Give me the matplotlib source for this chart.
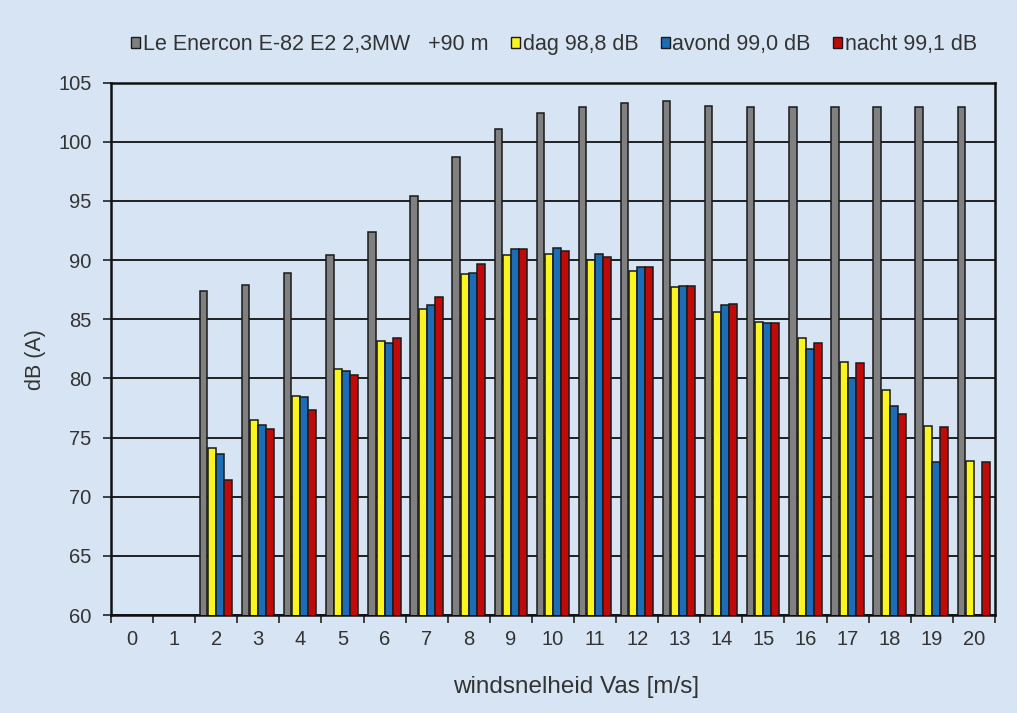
import numpy as np
import matplotlib
matplotlib.use("Agg")
import matplotlib.pyplot as plt
from matplotlib.patches import Patch
from matplotlib.ticker import MultipleLocator, FixedLocator

plt.rcParams['font.family'] = ['Liberation Sans', 'DejaVu Sans']

# wind speed classes (m/s)
wind = list(range(21))

# sound power levels, dB(A)
turbine = [None, None, 87.4, 87.9, 88.9, 90.4, 92.4, 95.4, 98.7, 101.1, 102.4,
           102.9, 103.3, 103.4, 103.0, 102.9, 102.9, 102.9, 102.9, 102.9, 102.9]
dag = [None, None, 74.1, 76.5, 78.5, 80.8, 83.2, 85.9, 88.8, 90.4, 90.5,
       90.0, 89.1, 87.7, 85.6, 84.8, 83.4, 81.4, 79.0, 76.0, 73.0]
avond = [None, None, 73.6, 76.1, 78.4, 80.6, 83.0, 86.2, 88.9, 90.9, 91.0,
         90.5, 89.4, 87.8, 86.2, 84.7, 82.5, 80.0, 77.7, 72.9, None]
nacht = [None, None, 71.4, 75.7, 77.3, 80.3, 83.4, 86.9, 89.7, 90.9, 90.8,
         90.3, 89.4, 87.8, 86.3, 84.7, 83.0, 81.3, 77.0, 75.9, 72.9]

series_labels = ["Le Enercon E-82 E2 2,3MW   +90 m", "dag 98,8 dB",
                 "avond 99,0 dB", "nacht 99,1 dB"]
series_colors = ["#808080", "#FAF51E", "#1C6CB6", "#C00A0A"]
offsets = [-0.30, -0.095, 0.095, 0.285]
bar_widths = [0.175, 0.19, 0.19, 0.19]

bg = "#D6E4F3"
fig = plt.figure(figsize=(10.17, 7.13), dpi=100, facecolor=bg)
ax = fig.add_axes([0.1091, 0.1374, 0.8692, 0.7468])
ax.set_facecolor(bg)

x = np.arange(len(wind), dtype=float)
for vals, col, off, w in zip([turbine, dag, avond, nacht], series_colors,
                             offsets, bar_widths):
    v = np.array([np.nan if a is None else a for a in vals], dtype=float)
    ax.bar(x + off, v, width=w, color=col, edgecolor="#1a1a1a",
           linewidth=1.1, zorder=3)

ax.set_xlim(-0.5, 20.5)
ax.set_ylim(60, 105)
ax.yaxis.set_major_locator(MultipleLocator(5))
ax.grid(axis="y", color="#111111", linewidth=1.3, zorder=1)
ax.set_axisbelow(True)

ax.set_xticks(x)
ax.set_xticklabels([str(w) for w in wind])
ax.xaxis.set_minor_locator(FixedLocator(np.arange(-0.5, 21, 1.0)))
ax.tick_params(axis="x", which="major", length=0, pad=11, labelsize=14.5,
               labelcolor="#333333")
ax.tick_params(axis="x", which="minor", length=6, width=1.2, color="#222222",
               direction="out")
ax.tick_params(axis="y", which="major", length=6, width=1.2, color="#222222",
               direction="out", pad=8, labelsize=14.5, labelcolor="#333333")

for s in ax.spines.values():
    s.set_color("#111111")
    s.set_linewidth(1.8)

ax.set_xlabel("windsnelheid Vas [m/s]", fontsize=17.5, color="#333333")
ax.xaxis.set_label_coords(0.526, -0.115)
ax.set_ylabel("dB (A)", fontsize=15.5, color="#333333")
ax.yaxis.set_label_coords(-0.074, 0.48)

handles = [Patch(facecolor=c, edgecolor="#1a1a1a", linewidth=1.0)
           for c in series_colors]
fig.legend(handles, series_labels, loc="center left",
           bbox_to_anchor=(0.1290, 0.9373), ncol=4, frameon=False,
           fontsize=15.5, handlelength=0.42, handleheight=0.42,
           handletextpad=0.12, columnspacing=1.05, borderpad=0,
           borderaxespad=0, labelcolor="#333333")

fig.savefig("out.png", dpi=100, facecolor=bg)
